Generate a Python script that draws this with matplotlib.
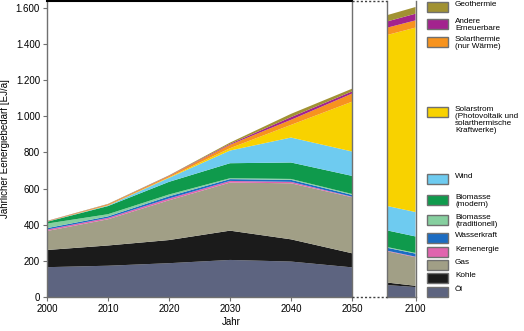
import matplotlib.pyplot as plt
from matplotlib.patches import Rectangle
from matplotlib.lines import Line2D

plt.rcParams['font.family'] = ['Liberation Sans', 'DejaVu Sans']

# Jahre (2100 nur im rechten Ausschnitt sichtbar)
years = [2000, 2010, 2020, 2030, 2040, 2050, 2100]

# Energiebedarf je Quelle in EJ/a (gestapelt, von unten nach oben)
oel = [165, 173, 187, 205, 196, 164, 55]
kohle = [95, 112, 128, 162, 123, 78, 7]
gas = [105, 145, 220, 266, 310, 310, 158]
kernenergie = [8, 8, 10, 9, 8, 3, 3]
wasserkraft = [8, 8, 12, 10, 11, 10, 17]
biomasse_trad = [25, 12, 10, 5, 5, 5, 4]
biomasse_mod = [10, 45, 70, 83, 91, 100, 91]
wind = [1, 3, 22, 70, 138, 135, 135]
solarstrom = [0, 1, 3, 13, 70, 275, 1020]
solarthermie = [2, 5, 7, 19, 28, 45, 40]
andere = [1, 1, 2, 5, 15, 12, 37]
geothermie = [1, 2, 2, 7, 18, 15, 37]

series = [oel, kohle, gas, kernenergie, wasserkraft, biomasse_trad,
          biomasse_mod, wind, solarstrom, solarthermie, andere, geothermie]
labels = ['Öl', 'Kohle', 'Gas', 'Kernenergie', 'Wasserkraft',
          'Biomasse\n(traditionell)', 'Biomasse\n(modern)', 'Wind',
          'Solarstrom\n(Photovoltaik und\nsolarthermische\nKraftwerke)',
          'Solarthermie\n(nur Wärme)', 'Andere\nErneuerbare', 'Geothermie']
colors = ['#5d6480', '#1b1b1b', '#a19f86', '#e064ae', '#1b6cc2', '#86cf9f',
          '#0f9a4c', '#6ecbf0', '#f8d200', '#f7931e', '#a3238e', '#a19232']

yticks = [0, 200, 400, 600, 800, 1000, 1200, 1400, 1600]
ytick_labels = ['0', '200', '400', '600', '800', '1.000', '1.200', '1.400', '1.600']

W, H = 524, 331
fig = plt.figure(figsize=(W / 100, H / 100), dpi=100)

def fx(px):
    return px / W

def fy(py):
    return 1 - py / H

ax = fig.add_axes([fx(47), fy(297), fx(352) - fx(47), fy(0.5) - fy(297)])
ax2 = fig.add_axes([fx(387), fy(297), fx(415.5) - fx(387), fy(0.5) - fy(297)])

for a in (ax, ax2):
    a.stackplot(years, *series, colors=colors, linewidth=0)
    a.set_ylim(0, 1640)
    for s in a.spines.values():
        s.set_color('#707070')
        s.set_linewidth(1.0)
    a.tick_params(axis='both', labelsize=7, length=3, width=0.8, color='#707070', pad=2)

ax.spines['top'].set_color('black')
ax.spines['top'].set_linewidth(1.5)
ax2.spines['top'].set_visible(False)

ax.set_xlim(2000, 2050)
ax.set_xticks([2000, 2010, 2020, 2030, 2040, 2050])
ax.set_yticks(yticks)
ax.set_yticklabels(ytick_labels)
ax.set_ylabel('Jährlicher Eenergiebedarf [EJ/a]', fontsize=7, labelpad=4)

ax2.set_xlim(2095, 2100)
ax2.set_xticks([2100])
ax2.set_yticks([])

fig.text(fx(231), fy(322), 'Jahr', ha='center', va='center', fontsize=7)

# gepunktete Verbindungslinien zwischen den Ausschnitten
for py in (1, 297):
    fig.add_artist(Line2D([fx(352), fx(387)], [fy(py), fy(py)], transform=fig.transFigure,
                          color='#404040', linestyle=(0, (1.5, 1.5)), linewidth=1))

# Legende rechts
legend_top = [287, 273, 260, 247, 233, 215, 195, 174, 107, 37, 19, 2]
for lab, col, top in zip(labels, colors, legend_top):
    fig.add_artist(Rectangle((fx(427), fy(top + 9.5)), fx(447.5) - fx(427), fy(top) - fy(top + 9.5),
                             transform=fig.transFigure, facecolor=col,
                             edgecolor='#707070', linewidth=1))
    fig.text(fx(455), fy(top - 1), lab, ha='left', va='top', fontsize=5.9, linespacing=1.0)

fig.savefig('out.png', dpi=100)
